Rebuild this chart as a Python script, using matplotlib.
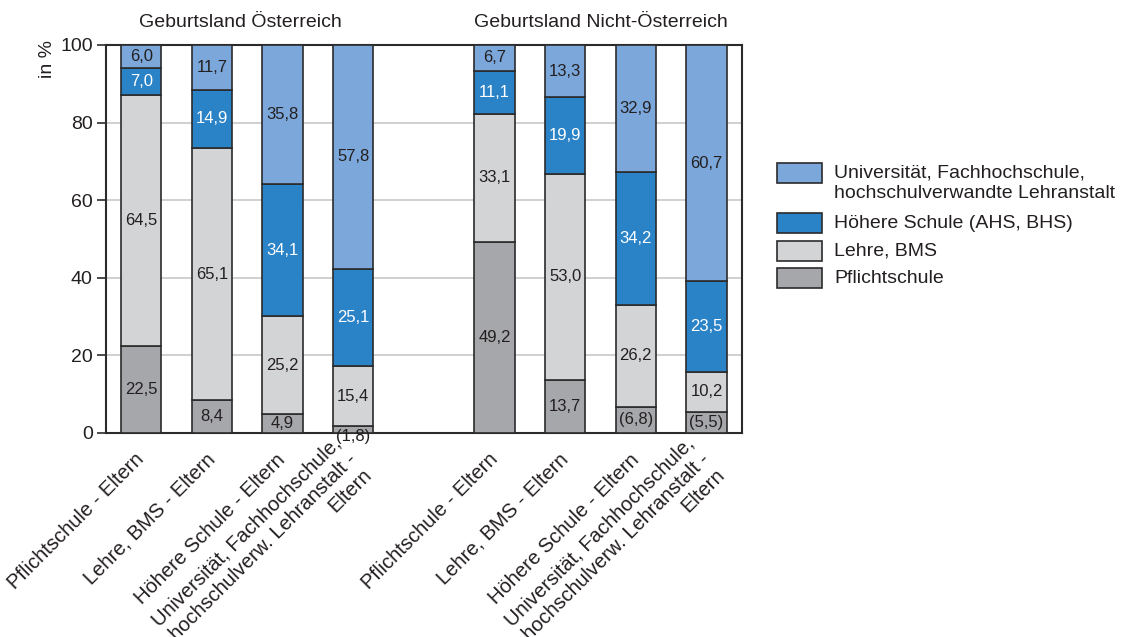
import numpy as np
import matplotlib.pyplot as plt
from matplotlib.patches import Rectangle

plt.rcParams['font.family'] = ['Liberation Sans', 'DejaVu Sans']

# Bildungsabschluss der Eltern (x-Kategorien)
categories = ["Pflichtschule - Eltern",
              "Lehre, BMS - Eltern",
              "Höhere Schule - Eltern",
              "Universität, Fachhochschule,\nhochschulverw. Lehranstalt -\nEltern"]
groups = ["Geburtsland Österreich", "Geburtsland Nicht-Österreich"]

# Werte in %, erst Österreich, dann Nicht-Österreich
pflicht = [22.5, 8.4, 4.9, 1.8, 49.2, 13.7, 6.8, 5.5]
lehre = [64.5, 65.1, 25.2, 15.4, 33.1, 53.0, 26.2, 10.2]
hoehere = [7.0, 14.9, 34.1, 25.1, 11.1, 19.9, 34.2, 23.5]
uni = [6.0, 11.7, 35.8, 57.8, 6.7, 13.3, 32.9, 60.7]
# kleine Werte stehen in Klammern
bracketed = [False, False, False, True, False, False, True, True]

series_names = ["Pflichtschule", "Lehre, BMS", "Höhere Schule (AHS, BHS)",
                "Universität, Fachhochschule,\nhochschulverwandte Lehranstalt"]
colors = ["#a6a7aa", "#d3d4d6", "#2a82c7", "#7ba7da"]
text_colors = ["#231f20", "#231f20", "white", "#231f20"]
edge = "#2b2b2b"
dark = "#231f20"

x = np.array([0, 1, 2, 3, 5, 6, 7, 8])

W, H = 1124, 637
fig = plt.figure(figsize=(W / 100, H / 100), dpi=100)
ax = fig.add_axes([0.0943, 0.3203, 0.5657, 0.6091])

bottom = np.zeros(len(x))
for i, vals in enumerate([pflicht, lehre, hoehere, uni]):
    vals = np.array(vals)
    ax.bar(x, vals, 0.57, bottom=bottom, color=colors[i], edgecolor=edge,
           linewidth=1.2, zorder=3)
    for j in range(len(x)):
        label = f"{vals[j]:.1f}".replace(".", ",")
        yc = bottom[j] + vals[j] / 2
        if i == 0 and bracketed[j]:
            label = "(" + label + ")"
            if vals[j] < 3:
                yc = -1.0
        ax.text(x[j], yc, label, ha="center", va="center", fontsize=12,
                color=text_colors[i], zorder=4, clip_on=False)
    bottom += vals

ax.set_xlim(-0.5, 8.5)
ax.set_ylim(0, 100)
ax.set_yticks([0, 20, 40, 60, 80, 100])
ax.tick_params(axis="y", labelsize=14, length=6.5, width=1.2, color=edge,
               labelcolor=dark, pad=3)
ax.yaxis.grid(True, color="#c8c8c8", linewidth=1.2, zorder=0)
ax.set_axisbelow(True)
for s in ax.spines.values():
    s.set_color(edge)
    s.set_linewidth(1.5)

ax.set_xticks(x)
ax.set_xticklabels(categories * 2, rotation=45, ha="right", va="center",
                   rotation_mode="anchor", fontsize=14.5, color=dark)
ax.tick_params(axis="x", length=0, pad=17)

ax.set_ylabel("in %", fontsize=14, color=dark)
ax.yaxis.set_label_coords(-0.078, 0.965)

trans = ax.get_xaxis_transform()
ax.text(1.4, 1.058, groups[0], transform=trans, ha="center", va="center",
        fontsize=14, color=dark)
ax.text(6.5, 1.058, groups[1], transform=trans, ha="center", va="center",
        fontsize=14, color=dark)

# Legende: Kästchen an der ersten Textzeile ausgerichtet
order = [3, 2, 1, 0]
row_y = [173, 223, 251, 278]
for k, i in enumerate(order):
    yc = row_y[k]
    fig.add_artist(Rectangle((777 / W, 1 - (yc + 10) / H), 45 / W, 20 / H,
                             transform=fig.transFigure, facecolor=colors[i],
                             edgecolor=edge, linewidth=1.2))
    fig.text(834 / W, 1 - (yc - 8) / H, series_names[i], ha="left",
             va="top", fontsize=14, color=dark, linespacing=1.2)

plt.savefig("out.png")
